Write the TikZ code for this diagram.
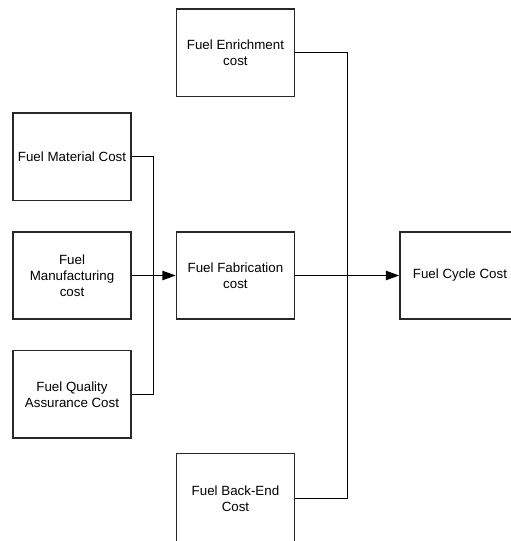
\documentclass[tikz,border=0pt]{standalone}
\usepackage{fontspec}
\setmainfont{Liberation Sans}
\usetikzlibrary{arrows.meta, positioning, calc}
\definecolor{BoxGray}{RGB}{40, 40, 40}
\tikzset{
  costbox/.style={draw=BoxGray, line width=1.1pt, fill=white, minimum width=88.5pt, minimum height=65.5pt, align=center, inner sep=2pt, font=\fontsize{10}{12}\selectfont},
  link/.style={draw=black, line width=1pt},
  arrowlink/.style={link, -{Triangle[length=10pt, width=7pt]}}
}
\begin{document}
\begin{tikzpicture}[x=0.75pt, y=-0.75pt]
    \useasboundingbox (0,0) rectangle (510,541);
    \node[costbox] (man) at (72,275.5) {Fuel\\Manufacturing\\cost};
    \node[costbox, above=22.5pt of man] (mat) {Fuel Material Cost};
    \node[costbox, below=22.5pt of man] (qa) {Fuel Quality\\Assurance Cost};
    \node[costbox, right=33pt of man] (fab) {Fuel Fabrication\\cost};
    \node[costbox, above=100.5pt of fab] (enr) {Fuel Enrichment\\cost};
    \node[costbox, below=99.5pt of fab, minimum height=68pt] (back) {Fuel Back-End\\Cost};
    \node[costbox, right=78pt of fab, minimum width=90pt] (cyc) {Fuel Cycle Cost};

    \coordinate (jl) at ($(man.east)+(22,0)$);
    \coordinate (jr) at ($(fab.east)+(52,0)$);

    \draw[link] (mat.east) -| (jl);
    \draw[link] (qa.east) -| (jl);
    \draw[arrowlink] (man) -- (fab);
    \draw[link] (enr.east) -| (jr);
    \draw[link] (back.east) -| (jr);
    \draw[arrowlink] (fab) -- (cyc);
  \end{tikzpicture}
\end{document}
